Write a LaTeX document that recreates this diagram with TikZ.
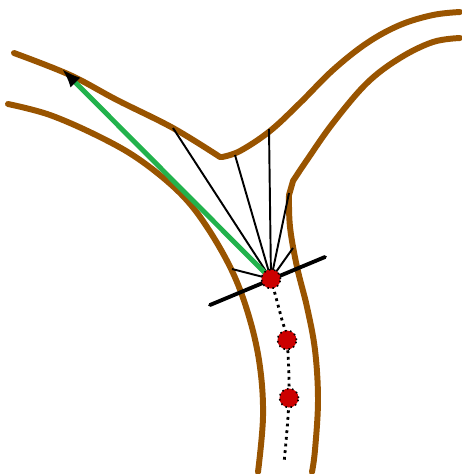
\documentclass[tikz,border=0pt]{standalone}
\usepackage{xcolor}
\usepackage{tikz}
\usetikzlibrary{arrows.meta}
\definecolor{wallbrown}{RGB}{153,84,0}
\definecolor{raygreen}{RGB}{34,178,76}
\definecolor{dotred}{RGB}{204,0,0}

\begin{document}
\begin{tikzpicture}[
    x=0.02cm, y=-0.02cm,
    wall/.style={draw=wallbrown, line width=3.4pt, line cap=round, line join=round},
    ray/.style={draw=black, line width=1.1pt},
    probe/.style={circle, fill=dotred, draw=black, dotted, line width=0.9pt, inner sep=0pt, minimum size=0.38cm},
    track/.style={draw=black, line width=1.6pt, dash pattern=on 1.6pt off 2.2pt},
  ]
    \useasboundingbox (0,0) rectangle (461,474);
    \draw[wall] plot[smooth, tension=0.6] coordinates {(14,53) (70,75) (117,100) (173,128) (220,157)}
      -- plot[smooth, tension=0.6] coordinates {(222,157) (240,151) (270,131) (300,103) (333,70) (367,43) (400,25) (433,15) (460,12)};
    \draw[wall] plot[smooth, tension=0.6] coordinates {(8,104) (50,115) (100,137) (140,160) (180,193) (207,227) (233,273) (250,320) (260,367) (263,417) (258,472)};
    \draw[wall] plot[smooth, tension=0.6] coordinates {(460,38) (433,42) (400,58) (367,83) (333,123) (307,160) (293,181)}
      -- plot[smooth, tension=0.6] coordinates {(289,195) (290,227) (297,267) (307,307) (315,350) (318,400) (315,450) (312,472)};
    \coordinate (p1c) at (271,279);
    \coordinate (p2c) at (287,340);
    \coordinate (p3c) at (289,398);
    \coordinate (tend) at (284,463);
    \draw[track] plot[smooth, tension=0.6] coordinates {(p1c) (282,320) (p2c) (p3c) (tend)};
    \coordinate (r1) at (173,128);
    \coordinate (r2) at (235,155);
    \coordinate (r3) at (269,129);
    \coordinate (r4) at (289,193);
    \coordinate (r5) at (293,248);
    \coordinate (r6) at (232,269);
    \foreach \r in {r1,r2,r3,r4,r5,r6} {
      \draw[ray] (p1c) -- (\r);
    }
    \coordinate (ta) at (210,305);
    \coordinate (tb) at (325,257);
    \draw[line width=2.2pt, line cap=round] (ta) -- (tb);
    \coordinate (gtip) at (62,69);
    \draw[raygreen, line width=2.8pt, -{Latex[black, length=3.8mm, width=2.8mm]}] (p1c) -- (gtip);
    \node[probe] (p1) at (p1c) {};
    \node[probe] (p2) at (p2c) {};
    \node[probe] (p3) at (p3c) {};
\end{tikzpicture}
\end{document}
